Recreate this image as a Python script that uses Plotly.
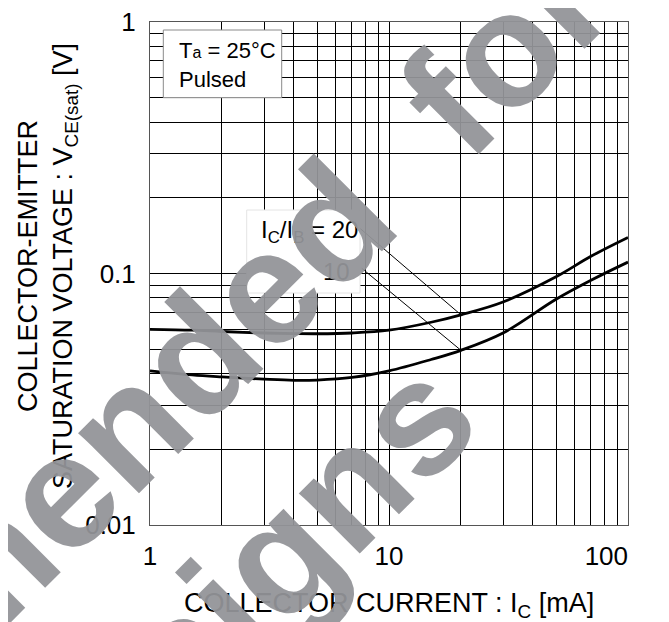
import math
import plotly.graph_objects as go

# ---------------- data ----------------
ic_ma = [1, 1.5, 2, 3, 4, 5, 7, 10, 15, 20, 30, 50, 70, 100]
vce_sat_20 = [0.060, 0.0595, 0.0588, 0.058, 0.0577, 0.0576, 0.058, 0.0595, 0.064, 0.0685, 0.077, 0.097, 0.117, 0.139]
vce_sat_10 = [0.041, 0.0395, 0.0388, 0.038, 0.0376, 0.0377, 0.0386, 0.041, 0.0455, 0.0495, 0.058, 0.079, 0.094, 0.111]

x_tickvals = [1, 10, 100]
x_ticktext = ["1", "10", "100&nbsp;&nbsp;&nbsp;&nbsp;&nbsp;&nbsp;"]
y_tickvals = [0.01, 0.1, 1]
y_ticktext = ["0.01", "0.1", "1"]
x_minor = [2, 3, 4, 5, 6, 7, 8, 9, 20, 30, 40, 50, 60, 70, 80, 90]
y_minor = [0.02, 0.03, 0.04, 0.05, 0.06, 0.07, 0.08, 0.09, 0.2, 0.3, 0.4, 0.5, 0.6, 0.7, 0.8, 0.9]

# leader lines: (label end point) -> (point on curve)
leader_20 = ([7.56, 20], [0.1512, 0.0685])
leader_10 = ([7.69, 20], [0.1049, 0.0495])

watermark_lines = ["Not recommended for", "new designs"]

# ---------------- layout geometry ----------------
# the page body has an 8px default margin, so the figure starts at (8, 8) of the window
OFF = 8
W, H = 669 - OFF, 622 - OFF
L, T = 150 - OFF, 22 - OFF
PW, PH = 478, 503
R, B = W - L - PW, H - T - PH
FONT = "Liberation Sans, Arial, Helvetica, sans-serif"


def paper(px, py):
    """window pixel -> paper fraction"""
    fx, fy = px - OFF, py - OFF
    return (fx - L) / PW, (T + PH - fy) / PH


fig = go.Figure()

fig.add_trace(go.Scatter(x=ic_ma, y=vce_sat_20, mode="lines", line=dict(color="black", width=2.8, shape="spline"),
                         name="IC/IB=20", hoverinfo="x+y"))
fig.add_trace(go.Scatter(x=ic_ma, y=vce_sat_10, mode="lines", line=dict(color="black", width=2.8, shape="spline"),
                         name="IC/IB=10", hoverinfo="x+y"))
for lx, ly in (leader_20, leader_10):
    fig.add_trace(go.Scatter(x=lx, y=ly, mode="lines", line=dict(color="black", width=1), hoverinfo="skip"))

shapes = []
annotations = []

# condition box
x0, y0 = paper(163.3, 30)
x1, y1 = paper(281.7, 97.7)
shapes.append(dict(type="rect", xref="paper", yref="paper", x0=x0, y0=y1, x1=x1, y1=y0,
                   fillcolor="white", line=dict(color="#8a8a8a", width=1), layer="above"))
ax, ay = paper(176.5, 50)
annotations.append(dict(xref="paper", yref="paper", x=ax, y=ay, xanchor="left", yanchor="middle",
                        text="T<span style='font-size:16px'>a</span> = 25°C", showarrow=False,
                        font=dict(family=FONT, size=22, color="black")))
ax, ay = paper(176.5, 79)
annotations.append(dict(xref="paper", yref="paper", x=ax, y=ay, xanchor="left", yanchor="middle",
                        text="Pulsed", showarrow=False, font=dict(family=FONT, size=22, color="black")))

# label box
x0, y0 = paper(246.7, 210)
x1, y1 = paper(360, 293)
shapes.append(dict(type="rect", xref="paper", yref="paper", x0=x0, y0=y1, x1=x1, y1=y0,
                   fillcolor="white", line=dict(color="#e4e4e4", width=1), layer="above"))
ax, ay = paper(360, 231)
annotations.append(dict(xref="paper", yref="paper", x=ax, y=ay, xanchor="right", yanchor="middle",
                        text="I<sub>C</sub>/I<sub>B</sub> = 20", showarrow=False,
                        font=dict(family=FONT, size=24, color="black")))
ax, ay = paper(352, 271)
annotations.append(dict(xref="paper", yref="paper", x=ax, y=ay, xanchor="right", yanchor="middle",
                        text="10", showarrow=False, font=dict(family=FONT, size=24, color="black")))

# axis titles
ax, ay = paper(389, 605)
annotations.append(dict(xref="paper", yref="paper", x=ax, y=ay, xanchor="center", yanchor="middle",
                        text="COLLECTOR CURRENT : I<sub>C</sub> [mA]", showarrow=False,
                        font=dict(family=FONT, size=27, color="black")))
ax, ay = paper(47, 266)
annotations.append(dict(xref="paper", yref="paper", x=ax, y=ay, xanchor="center", yanchor="middle",
                        text="COLLECTOR-EMITTER<br>SATURATION VOLTAGE : V<sub>CE(sat)</sub> [V]",
                        textangle=-90, showarrow=False, font=dict(family=FONT, size=27, color="black")))

# watermark (letter by letter, rotated -45 deg)
WIDTHS = {'N': .722, 'o': .611, 't': .333, ' ': .278, 'r': .389, 'e': .556, 'c': .556, 'm': .889,
          'n': .611, 'd': .611, 'f': .333, 'w': .778, 's': .556, 'i': .278, 'g': .611}
WM_F = 162
WM_COLOR = "rgba(147,148,152,0.94)"


def wm_line(text, anchor_idx, anchor_s, p_box, word_gap):
    cum = 0.0
    centers = []
    for i, ch in enumerate(text):
        w = WIDTHS[ch] * WM_F
        if ch == " ":
            cum += w + word_gap
            centers.append(None)
            continue
        centers.append(cum + w / 2)
        cum += w
    off = anchor_s - centers[anchor_idx]
    for ch, c in zip(text, centers):
        if c is None:
            continue
        s = c + off
        px = (s + p_box) / math.sqrt(2)
        py = (p_box - s) / math.sqrt(2)
        if px < -100 or px > 669 + 100 or py < -100 or py > 622 + 100:
            continue
        qx, qy = paper(px, py)
        annotations.append(dict(xref="paper", yref="paper", x=qx, y=qy, xanchor="center", yanchor="middle",
                                text=ch, textangle=-45, showarrow=False,
                                font=dict(family=FONT, size=WM_F, color=WM_COLOR, weight="bold")))


wm_line(watermark_lines[0], 13, -19.1, 391, 45)
wm_line(watermark_lines[1], 10, -4, 589, 0)

axis_common = dict(type="log", showgrid=True, gridcolor="black", gridwidth=1, showline=True, mirror=True,
                   linecolor="#555555", linewidth=1, ticks="", zeroline=False, automargin=False,
                   ticklabeloverflow="allow",
                   tickfont=dict(family=FONT, size=26, color="black"))

fig.update_layout(
    width=W, height=H, margin=dict(l=L, r=R, t=T, b=B, pad=0, autoexpand=False),
    paper_bgcolor="white", plot_bgcolor="white", showlegend=False,
    xaxis=dict(axis_common, range=[0, 2], tickmode="array", tickvals=x_tickvals, ticktext=x_ticktext,
               ticklabelstandoff=8,
               minor=dict(tickmode="array", tickvals=x_minor, showgrid=True, gridcolor="black", gridwidth=1, ticks="")),
    yaxis=dict(axis_common, range=[-2, 0], tickmode="array", tickvals=y_tickvals, ticktext=y_ticktext,
               ticklabelstandoff=8,
               minor=dict(tickmode="array", tickvals=y_minor, showgrid=True, gridcolor="black", gridwidth=1, ticks="")),
    shapes=shapes, annotations=annotations,
)

fig.write_html("out.html")
